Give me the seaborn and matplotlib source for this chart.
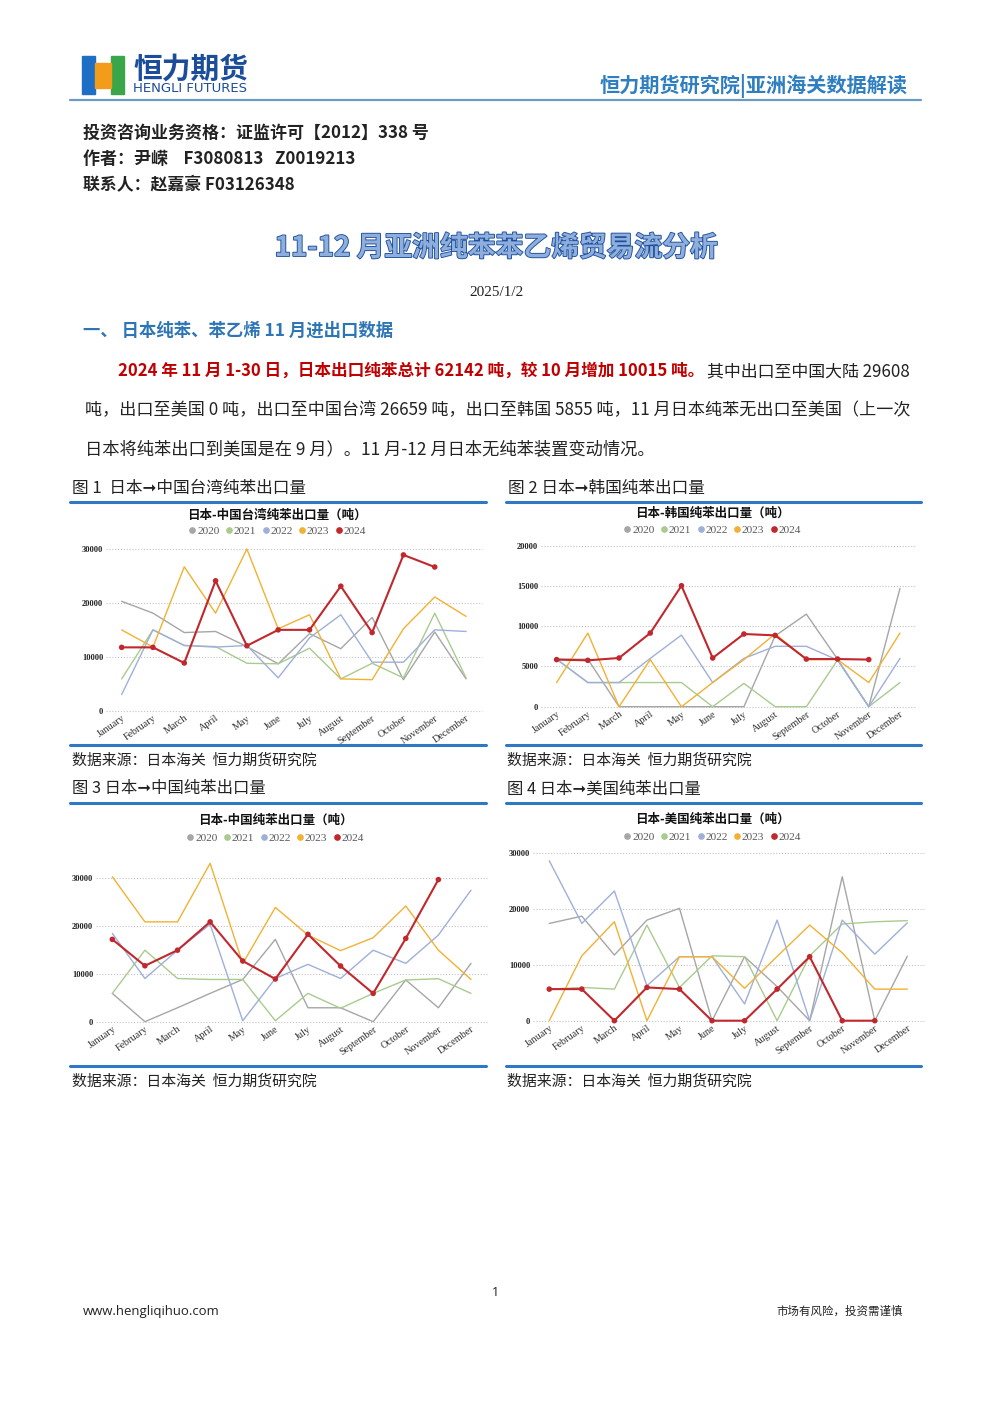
import numpy as np
import pandas as pd
import matplotlib
matplotlib.use('Agg')
import matplotlib.pyplot as plt
import matplotlib.patheffects as pe
from matplotlib.lines import Line2D
from matplotlib.patches import Rectangle
import seaborn as sns

sns.set_theme(style='white')
plt.rcParams['font.family'] = ['Noto Sans CJK SC', 'DejaVu Sans']
CJK = ['Noto Sans CJK SC', 'DejaVu Sans']

W, H = 992, 1403

# ---- data (tonnes) ----
months = ['January', 'February', 'March', 'April', 'May', 'June', 'July',
          'August', 'September', 'October', 'November', 'December']
years = ['2020', '2021', '2022', '2023', '2024']
colors = {'2020': '#a6a6a6', '2021': '#a9cb8e', '2022': '#9fafd9',
          '2023': '#f2b134', '2024': '#c0282d'}

taiwan = {
    '2020': [20300, 18100, 14500, 14700, 11900, 8700, 14300, 11500, 17300, 5750, 14600, 5900],
    '2021': [5900, 15000, 12100, 11900, 8800, 8700, 11600, 5900, 8800, 6100, 18100, 6100],
    '2022': [3000, 15000, 12100, 11800, 12100, 6100, 13500, 17800, 9000, 9000, 15000, 14700],
    '2023': [15000, 11800, 26700, 18100, 30000, 15200, 17800, 5900, 5750, 15200, 21100, 17500],
    '2024': [11750, 11750, 8850, 24100, 12050, 15000, 15000, 23100, 14500, 28900, 26659],
}
korea = {
    '2020': [5900, 5900, 0, 0, 0, 0, 0, 8800, 11500, 5900, 0, 14700],
    '2021': [5900, 3000, 3000, 3000, 3000, 0, 2900, 0, 0, 5800, 0, 3000],
    '2022': [5900, 3000, 3000, 6000, 8900, 3000, 6000, 7500, 7500, 5800, 0, 6000],
    '2023': [3000, 9150, 0, 5850, 0, 3000, 5850, 9050, 5850, 5850, 3000, 9150],
    '2024': [5850, 5760, 6050, 9150, 15030, 6050, 9030, 8860, 5920, 5920, 5855],
}
china = {
    '2020': [5900, 0, 2900, 5900, 8800, 17150, 2900, 2900, 0, 8700, 2900, 12150],
    '2021': [5900, 14900, 9000, 8800, 8800, 200, 5900, 2800, 5900, 8700, 8950, 5900],
    '2022': [18400, 9000, 14900, 20300, 200, 9000, 11950, 9000, 14900, 12150, 18050, 27400],
    '2023': [30200, 20800, 20800, 33000, 12150, 23800, 18050, 14800, 17500, 24100, 14900, 8800],
    '2024': [17150, 11650, 14900, 20800, 12650, 8900, 18200, 11600, 5900, 17350, 29608],
}
usa = {
    '2020': [17400, 18700, 11750, 18000, 20100, 0, 11450, 6100, 0, 25750, 0, 11550],
    '2021': [5650, 5950, 5650, 17100, 5950, 11600, 11450, 0, 11600, 17300, 17700, 17900],
    '2022': [28600, 17400, 23200, 6250, 11450, 11450, 3000, 18000, 0, 18000, 11900, 17500],
    '2023': [0, 11600, 17700, 0, 11450, 11450, 5800, 11500, 17100, 12150, 5650, 5650],
    '2024': [5650, 5650, 0, 5950, 5650, 0, 0, 5650, 11450, 0, 0],
}

fig = plt.figure(figsize=(W / 100, H / 100), dpi=100)
fig.patch.set_facecolor('white')
R = fig.canvas.get_renderer()


def fx(x):
    return x / W


def fy(y):
    return 1 - y / H


def put(x, y, s, x1=None, size=10, ha='left', **kw):
    kw.setdefault('family', CJK)
    t = fig.text(fx(x), fy(y), s, ha=ha, va='center', fontsize=size, **kw)
    if x1 is not None:
        w = t.get_window_extent(R).width
        t.set_fontsize(size * (x1 - x) / w)
    return t


def hline(y, x0, x1, color, lw):
    fig.add_artist(Line2D([fx(x0), fx(x1)], [fy(y), fy(y)], color=color,
                          lw=lw, transform=fig.transFigure))


# ---- header ----
fig.add_artist(Rectangle((fx(82), fy(94)), 13 / W, 38 / H, color='#1f6ec6',
                         transform=fig.transFigure))
fig.add_artist(Rectangle((fx(111), fy(94)), 13 / W, 38 / H, color='#39a64a',
                         transform=fig.transFigure))
fig.add_artist(Rectangle((fx(95), fy(88)), 16 / W, 25 / H, color='#f39c1a',
                         transform=fig.transFigure))
put(133, 69, '恒力期货', x1=248, size=18, weight='bold', color='#1b4d9b')
put(133, 89, 'HENGLI FUTURES', x1=248, size=8, color='#1b4d9b', family='DejaVu Sans')
put(600, 86, '恒力期货研究院|亚洲海关数据解读', x1=908, size=13, color='#2f7ec0', weight='bold')
hline(100, 70, 921, '#6a9bc3', 1.6)

put(83, 133, '投资咨询业务资格：证监许可【2012】338 号', x1=428, size=11, weight='bold', color='#222222')
put(83, 159, '作者：尹嵘    F3080813   Z0019213', x1=355, size=11, weight='bold', color='#222222')
put(83, 185, '联系人：赵嘉豪 F03126348', x1=294, size=11, weight='bold', color='#222222')

t = put(496, 248, '11-12 月亚洲纯苯苯乙烯贸易流分析', size=20, ha='center', weight='bold',
        color='#8eaedc')
t.set_path_effects([pe.Stroke(linewidth=1.3, foreground='#1e4f9e'), pe.Normal()])
put(496, 293, '2025/1/2', size=11, ha='center', family='Liberation Serif', color='#222222')

put(83, 331, '一、 日本纯苯、苯乙烯 11 月进出口数据', x1=392, size=12, color='#2e75b6', weight='bold')
put(118, 371, '2024 年 11 月 1-30 日，日本出口纯苯总计 62142 吨，较 10 月增加 10015 吨。',
    x1=705, size=12, color='#c00000', weight='bold')
put(707, 371, '其中出口至中国大陆 29608', x1=910, size=12, color='#222222')
put(85, 410, '吨，出口至美国 0 吨，出口至中国台湾 26659 吨，出口至韩国 5855 吨，11 月日本纯苯无出口至美国（上一次',
    x1=908, size=12, color='#222222')
put(85, 449, '日本将纯苯出口到美国是在 9 月）。11 月-12 月日本无纯苯装置变动情况。',
    x1=655, size=12, color='#222222')


# ---- chart panels ----
def panel(box, data, ymax, ticks, title, cx, ty, ly):
    l, r, top, bot = box
    ax = fig.add_axes([fx(l), fy(bot), (r - l) / W, (bot - top) / H])
    ax.set_facecolor('none')
    for yv in ticks:
        ax.axhline(yv, color='#c4c4c4', ls=(0, (1, 1.6)), lw=0.8, zorder=0)
    for yr in years:
        vals = data[yr]
        d = pd.DataFrame({'m': np.arange(len(vals)), 'v': vals})
        sns.lineplot(data=d, x='m', y='v', ax=ax, color=colors[yr],
                     lw=1.5 if yr == '2024' else 1.0, zorder=3 if yr == '2024' else 2)
        if yr == '2024':
            sns.scatterplot(data=d, x='m', y='v', ax=ax, color=colors[yr], s=16,
                            edgecolor='none', zorder=4)
    for a in ax.lines + ax.collections:
        a.set_clip_on(False)
    ax.set_xlim(-0.5, 11.5)
    ax.set_ylim(0, ymax)
    ax.set_yticks(ticks)
    ax.set_yticklabels([str(v) for v in ticks], family='Liberation Serif',
                       fontsize=6, weight='bold', color='#222222')
    ax.set_xticks(range(12))
    ax.set_xticklabels(months, rotation=35, ha='right', rotation_mode='anchor',
                       family='Liberation Serif', fontsize=7.3, color='#333333')
    ax.tick_params(length=0, axis='x', pad=2)
    ax.tick_params(length=0, axis='y', pad=2)
    ax.set_xlabel('')
    ax.set_ylabel('')
    sns.despine(ax=ax, left=True, bottom=True)
    put(cx, ty, title, size=9, ha='center', weight='bold', color='#111111')
    handles = [Line2D([0], [0], marker='o', ls='', color=colors[y], markersize=3.8)
               for y in years]
    ax.legend(handles, years, loc='center', bbox_to_anchor=(fx(cx), fy(ly)),
              bbox_transform=fig.transFigure, ncol=5, frameon=False,
              handletextpad=0.0, columnspacing=0.45, handlelength=0.8,
              prop={'family': 'Liberation Serif', 'size': 8.2}, labelcolor='#595959')
    return ax


panel((106, 481.7, 549, 710.7), taiwan, 30000, [0, 10000, 20000, 30000],
      '日本-中国台湾纯苯出口量（吨）', 277, 515, 531)
panel((541, 915.6, 545.7, 706.7), korea, 20000, [0, 5000, 10000, 15000, 20000],
      '日本-韩国纯苯出口量（吨）', 712, 513, 530)
panel((96, 487.3, 858.5, 1021.7), china, 34000, [0, 10000, 20000, 30000],
      '日本-中国纯苯出口量（吨）', 275, 820, 838)
panel((533, 923.6, 853, 1020.7), usa, 30000, [0, 10000, 20000, 30000],
      '日本-美国纯苯出口量（吨）', 712, 819, 837)

# captions, rules, sources
blue = '#2e78c4'
put(72, 488, '图 1  日本➞中国台湾纯苯出口量', x1=306, size=11, color='#222222')
put(508, 488, '图 2 日本➞韩国纯苯出口量', x1=705, size=11, color='#222222')
put(72, 789, '图 3 日本➞中国纯苯出口量', x1=265, size=11, color='#222222')
put(507, 789, '图 4 日本➞美国纯苯出口量', x1=700, size=11, color='#222222')
for y in (502, 745, 803, 1066):
    hline(y, 70, 486, blue, 2.2)
    hline(y, 506, 921, blue, 2.2)
for x0 in (72, 507):
    put(x0, 760, '数据来源：日本海关  恒力期货研究院', x1=x0 + 245, size=11, color='#222222')
    put(x0, 1081, '数据来源：日本海关  恒力期货研究院', x1=x0 + 245, size=11, color='#222222')

# footer
put(495, 1293, '1', size=9, ha='center', family='Open Sans', color='#222222')
put(83, 1311, 'www.hengliqihuo.com', x1=220, size=9, family='Open Sans', color='#222222')
put(776, 1311, '市场有风险，投资需谨慎', x1=902, size=8, color='#222222')

fig.savefig('out.png', dpi=100, facecolor='white')
